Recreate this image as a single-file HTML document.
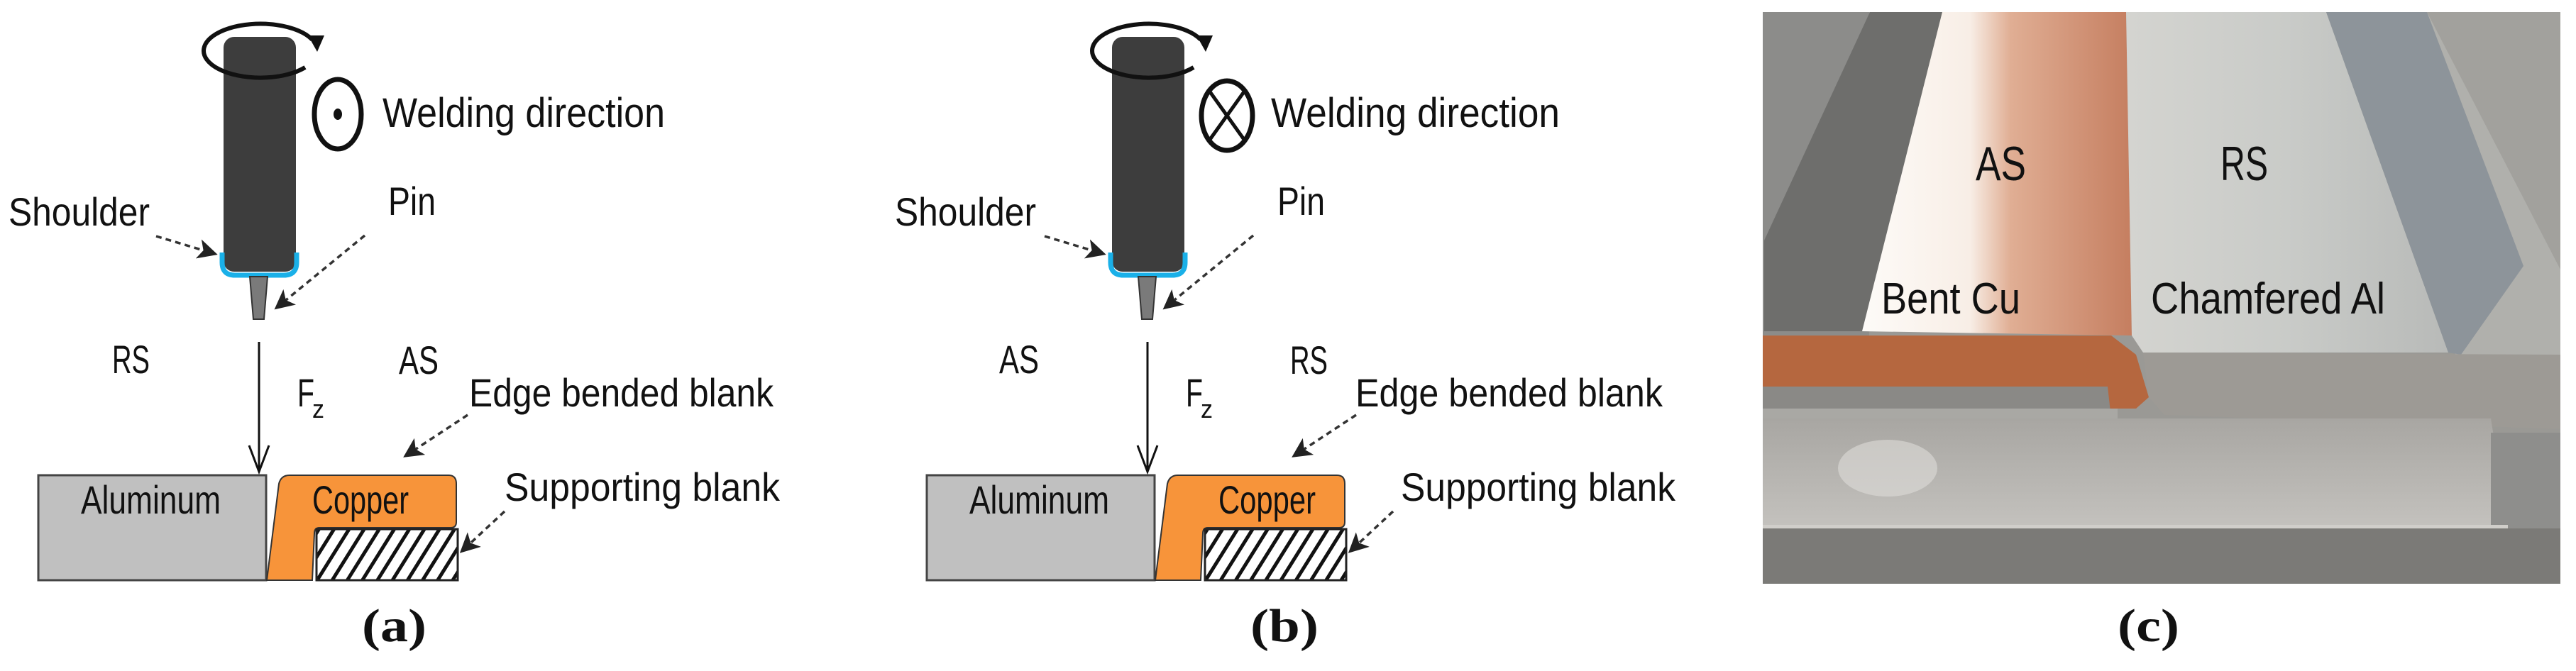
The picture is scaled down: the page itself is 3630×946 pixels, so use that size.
<!DOCTYPE html>
<html><head><meta charset="utf-8"><style>
html,body{margin:0;padding:0;background:#fff;}
svg{display:block;}
text{font-family:"Liberation Sans",sans-serif;fill:#111;}
.s{font-family:"Liberation Serif",serif;font-weight:bold;}
</style></head><body>
<svg width="3630" height="946" viewBox="0 0 3630 946" xmlns="http://www.w3.org/2000/svg">
<defs>
<pattern id="h" width="18" height="18" patternUnits="userSpaceOnUse" patternTransform="rotate(32)">
<rect width="18" height="18" fill="#fff"/><rect width="5" height="18" fill="#111"/></pattern>
<marker id="ah" markerWidth="8" markerHeight="8" refX="6" refY="4" orient="auto" markerUnits="strokeWidth"><path d="M0,0 L8,4 L0,8 L2,4 Z" fill="#222"/></marker>
<g id="shapes">
 <rect x="315" y="52" width="102" height="331" rx="15" fill="#3d3d3d"/>
 <path d="M313,356 L313,370 Q313,388 331,388 L400,388 Q418,388 418,370 L418,356" fill="none" stroke="#1ab0e8" stroke-width="7"/>
 <polygon points="352,390 377,390 372,450 357,450" fill="#7a7a7a" stroke="#333" stroke-width="2"/>
 <path d="M430,95 A80 38 0 1 1 440,56" fill="none" stroke="#111" stroke-width="6"/>
 <polygon points="434,50 457,50 447,73" fill="#111"/>
 <line x1="220" y1="333" x2="300" y2="357" stroke="#333" stroke-width="3.5" stroke-dasharray="8,6" marker-end="url(#ah)"/>
 <line x1="514" y1="332" x2="392" y2="432" stroke="#333" stroke-width="3.5" stroke-dasharray="8,6" marker-end="url(#ah)"/>
 <line x1="659" y1="585" x2="574" y2="641" stroke="#333" stroke-width="3.5" stroke-dasharray="8,6" marker-end="url(#ah)"/>
 <line x1="711" y1="721" x2="653" y2="775" stroke="#333" stroke-width="3.5" stroke-dasharray="8,6" marker-end="url(#ah)"/>
 <line x1="365" y1="482" x2="365" y2="664" stroke="#111" stroke-width="3"/>
 <polyline points="351,628 365,665 379,628" fill="none" stroke="#111" stroke-width="3"/>
 <rect x="54" y="670" width="321" height="148" fill="#c0c0c0" stroke="#444" stroke-width="3"/>
 <path d="M376,818 L393,682 Q396,670 408,670 L632,670 Q643,670 643,682 L643,736 Q643,744 635,744 L450,744 Q443,744 443,752 L440,818 Z" fill="#f7943a" stroke="#333" stroke-width="2"/>
 <rect x="446" y="746" width="199" height="72" fill="url(#h)" stroke="#222" stroke-width="3"/>
</g>
<linearGradient id="cuTop" x1="0" x2="1" y1="0" y2="0"><stop offset="0" stop-color="#fdfbf8"/><stop offset="0.4" stop-color="#f8eee6"/><stop offset="0.55" stop-color="#e0ae94"/><stop offset="1" stop-color="#c57e60"/></linearGradient>
<linearGradient id="alTop" x1="0" x2="1"><stop offset="0" stop-color="#d4d4d0"/><stop offset="0.5" stop-color="#c9cbc8"/><stop offset="1" stop-color="#b8bab8"/></linearGradient>
<linearGradient id="plate" x1="0" x2="0" y1="0" y2="1"><stop offset="0" stop-color="#a8a6a2"/><stop offset="1" stop-color="#c4c2be"/></linearGradient>
</defs>

<use href="#shapes"/>
<ellipse cx="476" cy="161" rx="33" ry="49" fill="none" stroke="#111" stroke-width="7"/>
<ellipse cx="476" cy="161" rx="6" ry="8" fill="#111"/>
<text x="539" y="179" font-size="58" textLength="398" lengthAdjust="spacingAndGlyphs">Welding direction</text>
<text x="12" y="318" font-size="56" textLength="199" lengthAdjust="spacingAndGlyphs">Shoulder</text>
<text x="547" y="303" font-size="56" textLength="67" lengthAdjust="spacingAndGlyphs">Pin</text>
<text x="158" y="526" font-size="56" textLength="53" lengthAdjust="spacingAndGlyphs">RS</text>
<text x="562" y="527" font-size="56" textLength="56" lengthAdjust="spacingAndGlyphs">AS</text>
<text x="419" y="573" font-size="56" textLength="24" lengthAdjust="spacingAndGlyphs">F</text>
<text x="440" y="589" font-size="36" textLength="17" lengthAdjust="spacingAndGlyphs">z</text>
<text x="661" y="573" font-size="56" textLength="429" lengthAdjust="spacingAndGlyphs">Edge bended blank</text>
<text x="114" y="724" font-size="56" textLength="197" lengthAdjust="spacingAndGlyphs">Aluminum</text>
<text x="440" y="724" font-size="56" textLength="136" lengthAdjust="spacingAndGlyphs">Copper</text>
<text x="711" y="706" font-size="56" textLength="388" lengthAdjust="spacingAndGlyphs">Supporting blank</text>
<text class="s" x="510" y="904" font-size="66" textLength="91" lengthAdjust="spacingAndGlyphs">(a)</text>

<g transform="translate(1252,0)"><use href="#shapes"/></g>
<ellipse cx="1729" cy="163" rx="36" ry="49" fill="none" stroke="#111" stroke-width="7"/>
<line x1="1704" y1="128" x2="1754" y2="198" stroke="#111" stroke-width="5"/>
<line x1="1754" y1="128" x2="1704" y2="198" stroke="#111" stroke-width="5"/>
<text x="1791" y="179" font-size="58" textLength="407" lengthAdjust="spacingAndGlyphs">Welding direction</text>
<text x="1261" y="318" font-size="56" textLength="199" lengthAdjust="spacingAndGlyphs">Shoulder</text>
<text x="1800" y="303" font-size="56" textLength="67" lengthAdjust="spacingAndGlyphs">Pin</text>
<text x="1408" y="526" font-size="56" textLength="56" lengthAdjust="spacingAndGlyphs">AS</text>
<text x="1818" y="527" font-size="56" textLength="53" lengthAdjust="spacingAndGlyphs">RS</text>
<text x="1671" y="573" font-size="56" textLength="24" lengthAdjust="spacingAndGlyphs">F</text>
<text x="1692" y="589" font-size="36" textLength="17" lengthAdjust="spacingAndGlyphs">z</text>
<text x="1910" y="573" font-size="56" textLength="433" lengthAdjust="spacingAndGlyphs">Edge bended blank</text>
<text x="1366" y="724" font-size="56" textLength="197" lengthAdjust="spacingAndGlyphs">Aluminum</text>
<text x="1717" y="724" font-size="56" textLength="137" lengthAdjust="spacingAndGlyphs">Copper</text>
<text x="1974" y="706" font-size="56" textLength="387" lengthAdjust="spacingAndGlyphs">Supporting blank</text>
<text class="s" x="1762" y="904" font-size="66" textLength="96" lengthAdjust="spacingAndGlyphs">(b)</text>

<g>
 <rect x="2484" y="17" width="1124" height="806" fill="#9a9995"/>
 <rect x="2484" y="17" width="150" height="460" fill="#8c8c8a"/>
 <rect x="3420" y="17" width="188" height="480" fill="#a2a19d"/>
 <polygon points="3320,17 3420,17 3608,380 3608,500 3460,500" fill="#b0b0ac"/>
 <polygon points="2635,17 2737,17 2624,467 2486,467 2486,339" fill="#6e6e6c"/>
 <polygon points="2737,17 2996,17 3004,473 2624,467" fill="url(#cuTop)"/>
 <polygon points="2996,17 3278,17 3450,497 3020,497 3004,473" fill="url(#alTop)"/>
 <polygon points="3278,17 3420,17 3556,375 3468,500 3450,497" fill="#8d949a"/>
 <polygon points="2484,473 2975,473 3010,500 3028,560 3010,576 2484,576" fill="#b5673f"/>
 <polygon points="2484,545 2970,545 2975,590 2484,590" fill="#8a8986"/>
 <polygon points="3020,497 3608,500 3608,605 3050,585 3028,560" fill="#9d9a95"/>
 <polygon points="2484,590 3510,590 3535,745 2484,745" fill="url(#plate)"/>
 <rect x="3510" y="610" width="98" height="140" fill="#8e8e8c"/>
 <rect x="2484" y="745" width="1124" height="78" fill="#7b7a77"/>
 <rect x="2484" y="740" width="1050" height="5" fill="#d0ceca"/>
 <rect x="2484" y="576" width="500" height="14" fill="#a9a8a4"/>
 <ellipse cx="2660" cy="660" rx="70" ry="40" fill="#dedcd8" opacity="0.6"/>
</g>
<text x="2784" y="254" font-size="68" textLength="71" lengthAdjust="spacingAndGlyphs">AS</text>
<text x="3129" y="254" font-size="68" textLength="67" lengthAdjust="spacingAndGlyphs">RS</text>
<text x="2651" y="442" font-size="62" textLength="196" lengthAdjust="spacingAndGlyphs">Bent Cu</text>
<text x="3031" y="442" font-size="62" textLength="330" lengthAdjust="spacingAndGlyphs">Chamfered Al</text>
<text class="s" x="2984" y="904" font-size="66" textLength="87" lengthAdjust="spacingAndGlyphs">(c)</text>
</svg>
</body></html>
